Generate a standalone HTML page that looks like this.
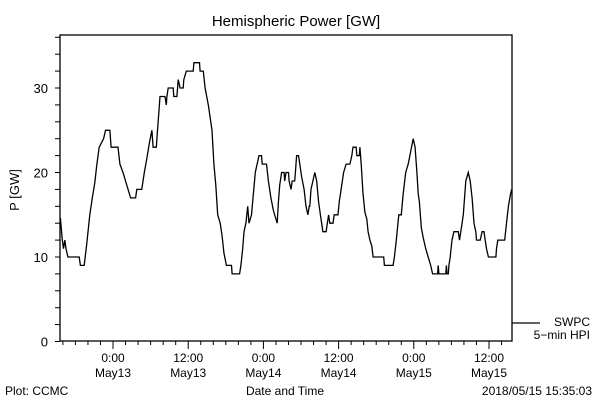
<!DOCTYPE html>
<html><head><meta charset="utf-8"><style>
html,body{margin:0;padding:0;background:#fff;}
svg{display:block;font-family:"Liberation Sans",sans-serif;}
</style></head><body>
<svg id="chart" width="600" height="400" viewBox="0 0 600 400">
<text x="296" y="26" font-size="15" text-anchor="middle">Hemispheric Power [GW]</text>
<text transform="translate(19,190) rotate(-90)" font-size="13" text-anchor="middle">P [GW]</text>
<rect x="60" y="35" width="452" height="306" fill="none" stroke="#000" stroke-width="1.3"/>
<g id="yaxis"></g>
<g id="xaxis"></g>
<polyline id="series" fill="none" stroke="#000" stroke-width="1.3"/>
<text x="285" y="395" font-size="12" text-anchor="middle">Date and Time</text>
<text x="5" y="395" font-size="12">Plot: CCMC</text>
<text x="592" y="395" font-size="12" text-anchor="end">2018/05/15 15:35:03</text>
<g>
<line x1="512" y1="323" x2="540" y2="323" stroke="#000" stroke-width="1.3"/>
<text x="590" y="326" font-size="12" text-anchor="end">SWPC</text>
<text x="590" y="339" font-size="12" text-anchor="end">5−min HPI</text>
</g>
</svg>
<script>
const yTicks=[0,10,20,30];
const xTickHours=[0,12,24,36,48,60];
const xTickTimes=["0:00","12:00","0:00","12:00","0:00","12:00"];
const xTickDates=["May13","May13","May14","May14","May15","May15"];
const hours=[-8.4,-8.1,-7.9,-7.7,-7.5,-7.2,-5.4,-5.2,-4.6,-4.2,-3.7,-3.3,-2.9,-2.6,-2.2,-1.5,-1.2,-0.5,-0.3,0.8,1.1,1.6,2.2,2.8,3.6,3.8,4.6,5.0,5.4,5.8,6.2,6.4,6.9,7.1,7.4,7.5,8.3,8.5,8.6,8.8,9.6,9.7,10.2,10.4,10.7,11.2,11.3,11.7,12.8,12.9,13.8,13.9,14.4,14.7,15.2,15.8,16.1,16.4,16.7,17.1,17.4,17.7,18.1,18.9,19.0,20.2,20.4,20.7,20.9,21.2,21.5,21.7,22.1,22.4,22.7,23.0,23.3,23.7,23.8,24.5,24.8,25.2,25.6,26.0,26.2,26.4,26.6,26.9,27.3,27.4,27.6,28.0,28.1,28.4,28.6,29.0,29.1,29.3,29.6,29.8,30.1,30.5,30.8,31.1,31.3,31.4,31.6,31.9,32.2,32.5,32.8,33.1,33.5,34.0,34.4,34.6,35.1,35.3,35.9,36.1,36.4,36.8,37.2,37.8,38.1,38.3,38.8,38.9,39.3,39.4,39.6,39.9,40.2,40.5,40.7,41.0,41.3,41.5,43.2,43.3,44.7,44.9,45.2,45.6,46.0,46.3,46.7,47.1,47.5,47.9,48.2,48.5,48.7,48.9,49.2,49.5,49.9,50.3,50.7,51.0,51.8,51.9,52.0,53.1,53.2,53.3,53.5,53.6,53.8,54.1,54.4,55.1,55.3,55.5,55.9,56.3,56.7,57.0,57.3,57.6,57.9,58.0,58.6,58.9,59.2,59.4,59.6,59.9,61.1,61.2,61.4,62.5,62.8,63.1,63.4,63.6];
const power=[14.6,12,11,12,11,10,10,9,9,11.5,15,17,18.8,20.8,23,24,25,25,23,23,21,20,18.5,17,17,18,18,20,21.7,23.5,25,23,23,25,28,29,29,28,29,30,30,29,29,31,30,30,31,32,32,33,33,32,32,30,28,25,21,18.5,15,14,12.5,10.5,9,9,8,8,9,11,13,14,16,14,15,17.5,20,21,22,22,21,21,19,17,15.5,14.5,14,16.5,18.5,20,20,19,20,20,19,18,19,19,20,22,22,21,19.5,18,16,15,16,16,18,19,20,19,16.5,15,13,13,15,14,14,15,15,16.5,18,20,21,21,22,23,23,22,22,23,21,17.5,15.3,14.5,13,12,11.3,10,10,9,9,10,12,15,15,17.5,20,21,22.5,24,23,20,17.5,16.5,13.5,12.3,11,10,9,8,8,9,8,8,9,8,8,9,10,12,13,13,12,13,15,19,20,19,17,14,13,12,12,13,13,12,11,10,10,11,12,12,14,16,17.3,18];
const X0=60,X1=512,HMIN=-8.46,HMAX=63.67,Y0=341.5,PPU=8.45;
function xs(h){return X0+(h-HMIN)/(HMAX-HMIN)*(X1-X0);}
function ys(v){return Y0-v*PPU;}
const NS="http://www.w3.org/2000/svg";
const ya=document.getElementById('yaxis'),xa=document.getElementById('xaxis');
function mk(tag,attrs,parent){const e=document.createElementNS(NS,tag);for(const k in attrs)e.setAttribute(k,attrs[k]);parent.appendChild(e);return e;}
for(let v=0;v<=36;v+=2){
  const t=mk('line',{x1:55,x2:60,y1:ys(v),y2:ys(v),stroke:'#000','stroke-width':1},ya);
  
  
}
yTicks.forEach(v=>{
  const t=mk('text',{x:48,y:ys(v)+5,'font-size':13,'text-anchor':'end'},ya);
  t.textContent=v;
  
  
});
for(let h=-8;h<=63;h+=2){
  const major=(h%12===0);
  const t=mk('line',{x1:xs(h),x2:xs(h),y1:341,y2:major?349:345,stroke:'#000','stroke-width':1},xa);
  
  
}
xTickHours.forEach((h,i)=>{
  const a=mk('text',{x:xs(h),y:362,'font-size':12,'text-anchor':'middle'},xa);
  a.textContent=xTickTimes[i];
  
  
  const b=mk('text',{x:xs(h),y:377,'font-size':12,'text-anchor':'middle'},xa);
  b.textContent=xTickDates[i];
  
  
});
document.getElementById('series').setAttribute('points',hours.map((h,i)=>xs(h).toFixed(1)+','+ys(power[i]).toFixed(1)).join(' '));
</script>
</body></html>
